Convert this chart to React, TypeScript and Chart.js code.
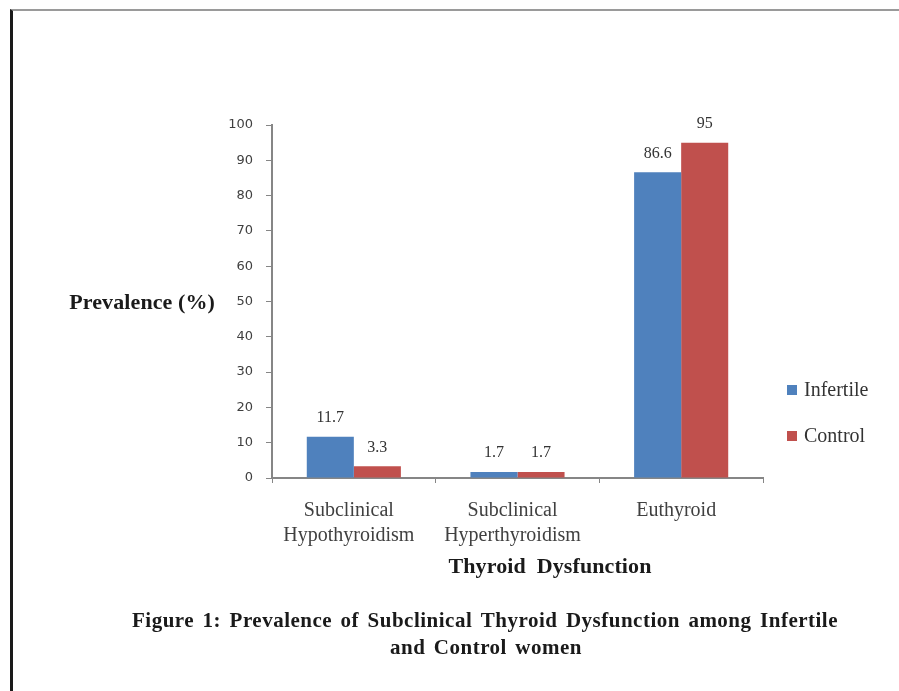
import React, { useEffect, useRef } from "react";
import { Chart, registerables } from "chart.js";

Chart.register(...registerables);

const categories: string[][] = [
  ["Subclinical", "Hypothyroidism"],
  ["Subclinical", "Hyperthyroidism"],
  ["Euthyroid"],
];
const seriesNames = ["Infertile", "Control"];
const infertileValues = [11.7, 1.7, 86.6];
const controlValues = [3.3, 1.7, 95];
const seriesColors = ["#4F81BD", "#C0504D"];
const yMin = 0;
const yMax = 100;
const yStep = 10;
const yAxisTitle = "Prevalence (%)";
const xAxisTitle = "Thyroid Dysfunction";
const captionLines = [
  "Figure 1: Prevalence of Subclinical Thyroid Dysfunction among Infertile",
  "and Control women",
];

const SERIF = '"Liberation Serif", "Times New Roman", serif';
const SANS = '"DejaVu Sans", Verdana, sans-serif';

function drawJustified(ctx: CanvasRenderingContext2D, text: string, x: number, y: number, width: number) {
  const words = text.split(" ");
  const widths = words.map((w) => ctx.measureText(w).width);
  const total = widths.reduce((a, b) => a + b, 0);
  const gap = words.length > 1 ? (width - total) / (words.length - 1) : 0;
  let cx = x;
  ctx.textAlign = "left";
  words.forEach((w, i) => {
    ctx.fillText(w, cx, y);
    cx += widths[i] + gap;
  });
}

const extrasPlugin = {
  id: "extras",
  afterDatasetsDraw(chart: any) {
    const ctx: any = chart.ctx;
    const area = chart.chartArea;
    ctx.save();
    // data labels
    ctx.font = `16px ${SERIF}`;
    ctx.fillStyle = "#333333";
    ctx.textAlign = "center";
    ctx.textBaseline = "middle";
    chart.data.datasets.forEach((ds: any, i: number) => {
      chart.getDatasetMeta(i).data.forEach((bar: any, j: number) => {
        ctx.fillText(String(ds.data[j]), bar.x, bar.y - 19);
      });
    });
    // y axis title (horizontal)
    ctx.font = `bold 22px ${SERIF}`;
    ctx.letterSpacing = "0.1px";
    ctx.fillStyle = "#1a1a1a";
    ctx.textAlign = "right";
    ctx.fillText(yAxisTitle, area.left - 57, (area.top + area.bottom) / 2 + 2);
    // x axis title
    drawJustified(ctx, xAxisTitle, (area.left + area.right) / 2 + 32 - 101, area.bottom + 89, 203);
    // legend
    ctx.letterSpacing = "0px";
    ctx.font = `20px ${SERIF}`;
    chart.data.datasets.forEach((ds: any, i: number) => {
      const ly = 390 + i * 46;
      ctx.fillStyle = ds.backgroundColor;
      ctx.fillRect(787, ly - 5, 10, 10);
      ctx.fillStyle = "#333333";
      ctx.textAlign = "left";
      ctx.fillText(ds.label, 804, ly + 1);
    });
    // caption
    ctx.font = `bold 21px ${SERIF}`;
    ctx.letterSpacing = "0.5px";
    ctx.fillStyle = "#1a1a1a";
    drawJustified(ctx, captionLines[0], 132, 622, 706);
    drawJustified(ctx, captionLines[1], 390, 649, 192);
    ctx.restore();
  },
};

export default function App() {
  const canvasRef = useRef<HTMLCanvasElement | null>(null);

  useEffect(() => {
    if (!canvasRef.current) return;
    const chart = new Chart(canvasRef.current, {
      type: "bar",
      data: {
        labels: categories,
        datasets: [
          { label: seriesNames[0], data: infertileValues, backgroundColor: seriesColors[0] },
          { label: seriesNames[1], data: controlValues, backgroundColor: seriesColors[1] },
        ],
      },
      options: {
        animation: false,
        responsive: true,
        maintainAspectRatio: false,
        layout: { padding: { left: 192, right: 136, top: 125, bottom: 0 } },
        datasets: { bar: { categoryPercentage: 0.575, barPercentage: 1 } },
        plugins: {
          legend: { display: false },
          title: { display: false },
          tooltip: { enabled: false },
        },
        scales: {
          x: {
            afterFit: (scale: any) => {
              scale.height = 213;
            },
            grid: {
              display: true,
              drawOnChartArea: false,
              drawTicks: true,
              tickLength: 5,
              color: "#868686",
              offset: true,
            },
            border: { display: true, color: "#868686", width: 2 },
            ticks: {
              color: "#404040",
              padding: 15,
              labelOffset: -5,
              maxRotation: 0,
              autoSkip: false,
              font: { family: SERIF, size: 20, lineHeight: 1.25 },
            },
          },
          y: {
            min: yMin,
            max: yMax,
            afterFit: (scale: any) => {
              scale.width = 80;
            },
            grid: {
              display: true,
              drawOnChartArea: false,
              drawTicks: true,
              tickLength: 6,
              color: "#868686",
            },
            border: { display: true, color: "#868686", width: 2 },
            ticks: {
              stepSize: yStep,
              color: "#404040",
              padding: 13,
              font: { family: SANS, size: 13 },
            },
          },
        },
      },
      plugins: [extrasPlugin],
    });
    return () => chart.destroy();
  }, []);

  return (
    <div style={{ position: "absolute", left: 0, top: 0, width: 899, height: 691, background: "#ffffff" }}>
      <canvas ref={canvasRef} />
      <div
        style={{
          position: "absolute",
          left: 10,
          top: 9,
          right: 0,
          bottom: 0,
          borderLeft: "3px solid #1a1a1a",
          borderTop: "2px solid #9a9a9a",
          pointerEvents: "none",
        }}
      />
    </div>
  );
}
